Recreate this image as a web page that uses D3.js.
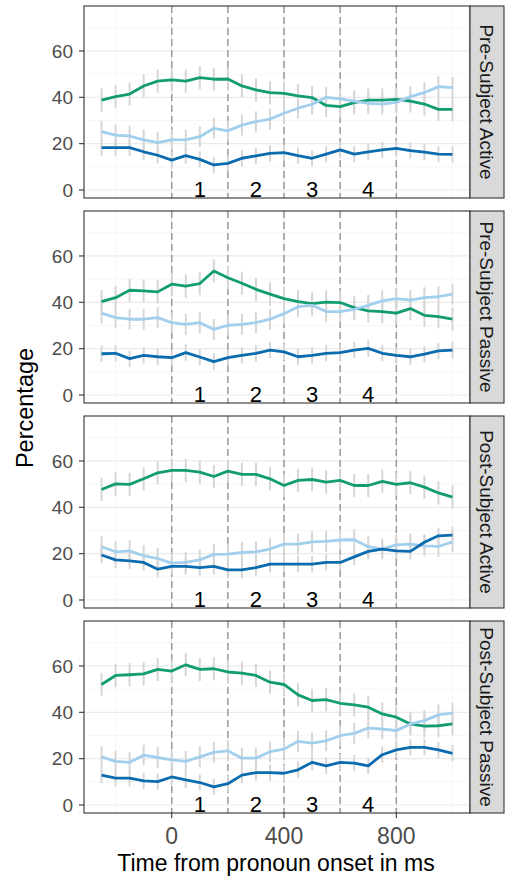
<!DOCTYPE html>
<html lang="en">
<head>
  <meta charset="UTF-8"/>
  <title>Fixation percentages by condition</title>
  <script src="https://d3js.org/d3.v7.min.js"></script>
<style>
body {
  margin: 0;
  background: #fff;
  font-family: "Liberation Sans", Arial, sans-serif;
}
svg {
  display: block;
}
.grid-major {
  stroke: #EBEBEB;
  stroke-width: 1.2;
}
.grid-minor {
  stroke: #F2F2F2;
  stroke-width: 0.7;
}
.window {
  stroke: #9A9A9A;
  stroke-width: 1.5;
  stroke-dasharray: 7 4;
}
.errbar {
  stroke: #D6D6D6;
  stroke-width: 2;
}
.series {
  fill: none;
  stroke-width: 2.8;
  stroke-linejoin: round;
}
.tick-label {
  fill: #4D4D4D;
}
</style>
</head>
<body>
<svg id="chart" width="505" height="882"></svg>
<script>
// time points, ms from pronoun onset (every 50 ms)
const times = [-250, -200, -150, -100, -50, 0, 50, 100, 150, 200, 250, 300, 350,
  400, 450, 500, 550, 600, 650, 700, 750, 800, 850, 900, 950, 1000];

const panels = ['Pre-Subject Active', 'Pre-Subject Passive', 'Post-Subject Active', 'Post-Subject Passive'];
const seriesNames = ['green', 'light', 'dark'];
const seriesColors = ['#129C73', '#A3CFEE', '#0A6BAE'];

// green series, one array per panel
const greenPreAct = [38.8, 40.3, 41.4, 44.9, 47.0, 47.5, 47.0, 48.5, 47.8, 47.9, 44.9, 43.2, 42.0,
  41.7, 40.6, 39.9, 36.5, 36.0, 37.7, 38.8, 38.8, 39.1, 38.4, 37.1, 34.8, 34.8];
const greenPrePas = [40.3, 42.0, 45.2, 44.9, 44.5, 47.8, 47.0, 48.1, 53.5, 50.6, 48.2, 45.6, 43.5,
  41.6, 40.3, 39.4, 40.1, 39.9, 37.7, 36.3, 36.0, 35.3, 37.3, 34.4, 33.8, 32.7];
const greenPostAct = [47.7, 50.1, 49.9, 52.3, 54.9, 55.9, 55.9, 55.2, 53.3, 55.6, 54.2, 54.2, 52.3,
  49.4, 51.6, 52.0, 50.9, 51.6, 49.4, 49.4, 51.2, 49.9, 50.6, 48.7, 46.2, 44.4];
const greenPostPas = [52.0, 55.9, 56.2, 56.6, 58.5, 57.8, 60.5, 58.5, 58.8, 57.4, 56.9, 55.9, 53.0,
  52.0, 47.5, 45.1, 45.5, 43.9, 43.2, 42.2, 39.3, 37.9, 35.0, 34.0, 34.2, 35.0];

// light blue series
const lightPreAct = [25.2, 23.7, 23.3, 21.6, 20.4, 21.6, 21.6, 23.0, 26.6, 25.5, 28.0, 29.5, 30.6,
  33.1, 35.3, 37.0, 40.0, 39.3, 38.4, 37.4, 37.1, 37.8, 40.3, 42.0, 44.6, 44.2];
const lightPrePas = [35.3, 33.4, 32.7, 32.7, 33.4, 31.2, 30.5, 31.2, 28.3, 30.1, 30.5, 31.2, 32.7,
  35.1, 38.1, 38.7, 36.0, 36.0, 37.0, 38.7, 40.6, 41.6, 40.9, 42.0, 42.4, 43.5];
const lightPostAct = [23.0, 20.8, 21.2, 19.1, 17.9, 15.9, 16.2, 17.3, 19.7, 19.8, 20.5, 20.8, 22.0,
  24.1, 24.1, 25.1, 25.3, 25.9, 26.0, 23.0, 22.0, 23.8, 24.1, 23.4, 23.1, 25.1];
const lightPostPas = [20.8, 18.8, 18.4, 21.5, 20.5, 19.5, 18.8, 20.8, 22.7, 23.4, 20.2, 20.2, 23.0,
  24.1, 27.5, 26.7, 27.7, 29.9, 30.9, 33.2, 32.8, 32.1, 35.0, 36.4, 38.9, 39.6];

// dark blue series
const darkPreAct = [18.3, 18.3, 18.3, 16.5, 15.0, 12.9, 14.8, 13.2, 10.8, 11.5, 13.7, 14.7, 15.8,
  16.1, 14.8, 13.7, 15.5, 17.3, 15.5, 16.5, 17.3, 18.0, 17.0, 16.3, 15.5, 15.4];
const darkPrePas = [17.8, 18.0, 15.7, 17.1, 16.5, 16.1, 18.3, 16.4, 14.4, 16.1, 17.1, 18.0, 19.4,
  18.6, 16.5, 17.1, 18.0, 18.3, 19.4, 20.1, 18.0, 17.1, 16.5, 17.6, 19.0, 19.4];
const darkPostAct = [19.4, 17.3, 16.9, 16.2, 13.3, 14.5, 14.5, 14.0, 14.5, 13.0, 13.0, 14.0, 15.5,
  15.5, 15.5, 15.5, 16.2, 16.2, 18.6, 21.0, 22.0, 21.2, 21.0, 24.9, 27.7, 28.0];
const darkPostPas = [12.9, 11.6, 11.6, 10.4, 10.1, 12.1, 10.8, 9.7, 7.8, 9.2, 12.9, 14.0, 14.0,
  13.7, 15.2, 18.4, 16.9, 18.4, 18.1, 16.9, 21.7, 23.8, 24.9, 24.9, 23.8, 22.3];

// error bar half widths (green, light, dark) per panel
const errPreAct = [5, 4.5, 3.5];
const errPrePas = [5, 4.5, 3.5];
const errPostAct = [5, 4.5, 3.5];
const errPostPas = [5, 4.5, 3.5];

// analysis windows
const windowLines = [0, 200, 400, 600, 800];
const windowLabels = ['1', '2', '3', '4'];
const windowMids = [100, 300, 500, 700];

const yMajor = [0, 20, 40, 60];
const yMinor = [10, 30, 50, 70];
const xMajor = [0, 400, 800];
const xMinor = [-200, 200, 600, 1000];

const panelData = [
  [greenPreAct, lightPreAct, darkPreAct, errPreAct],
  [greenPrePas, lightPrePas, darkPrePas, errPrePas],
  [greenPostAct, lightPostAct, darkPostAct, errPostAct],
  [greenPostPas, lightPostPas, darkPostPas, errPostPas]
];

const svg = d3.select('#chart');

const left = 84;
const right = 470;
const stripW = 34;
const panelH = 192;
const panelTop0 = 6;
const panelStep = 205;

const xScale = d3.scaleLinear()
  .domain([-312.5, 1062.5])
  .range([left, right]);

panels.forEach((name, p) => {
  const top = panelTop0 + p * panelStep;
  const yScale = d3.scaleLinear()
    .domain([-3.45, 79.4])
    .range([top + panelH, top]);

  const g = svg.append('g');

  // grid
  g.selectAll('.ymin').data(yMinor).enter().append('line')
    .attr('class', 'grid-minor')
    .attr('x1', left).attr('x2', right)
    .attr('y1', d => yScale(d)).attr('y2', d => yScale(d));
  g.selectAll('.xmin').data(xMinor).enter().append('line')
    .attr('class', 'grid-minor')
    .attr('x1', d => xScale(d)).attr('x2', d => xScale(d))
    .attr('y1', top).attr('y2', top + panelH);
  g.selectAll('.ymaj').data(yMajor).enter().append('line')
    .attr('class', 'grid-major')
    .attr('x1', left).attr('x2', right)
    .attr('y1', d => yScale(d)).attr('y2', d => yScale(d));
  g.selectAll('.xmaj').data(xMajor).enter().append('line')
    .attr('class', 'grid-major')
    .attr('x1', d => xScale(d)).attr('x2', d => xScale(d))
    .attr('y1', top).attr('y2', top + panelH);

  // dashed window boundaries
  g.selectAll('.win').data(windowLines).enter().append('line')
    .attr('class', 'window')
    .attr('x1', d => xScale(d)).attr('x2', d => xScale(d))
    .attr('y1', top).attr('y2', top + panelH);

  const [green, light, dark, err] = panelData[p];
  const seriesVals = [green, light, dark];

  // error bars first, lines over them
  seriesVals.forEach((vals, s) => {
    g.selectAll('.err' + s).data(vals).enter().append('line')
      .attr('class', 'errbar')
      .attr('x1', (d, i) => xScale(times[i]))
      .attr('x2', (d, i) => xScale(times[i]))
      .attr('y1', d => yScale(d - err[s]))
      .attr('y2', d => yScale(d + err[s]));
  });

  const line = d3.line()
    .x((d, i) => xScale(times[i]))
    .y(d => yScale(d));

  seriesVals.forEach((vals, s) => {
    g.append('path')
      .datum(vals)
      .attr('class', 'series ' + seriesNames[s])
      .attr('stroke', seriesColors[s])
      .attr('d', line);
  });

  // window numbers
  g.selectAll('.wlab').data(windowLabels).enter().append('text')
    .attr('x', (d, i) => xScale(windowMids[i]))
    .attr('y', yScale(0))
    .attr('dy', '0.3em')
    .attr('text-anchor', 'middle')
    .style('font-size', '22px')
    .style('fill', '#000')
    .text(d => d);

  // panel border
  g.append('rect')
    .attr('x', left).attr('y', top)
    .attr('width', right - left).attr('height', panelH)
    .attr('fill', 'none')
    .attr('stroke', '#333')
    .attr('stroke-width', 1.1);

  // y axis ticks
  g.selectAll('.ytick').data(yMajor).enter().append('line')
    .attr('x1', left - 5).attr('x2', left)
    .attr('y1', d => yScale(d)).attr('y2', d => yScale(d))
    .attr('stroke', '#333').attr('stroke-width', 1.1);
  g.selectAll('.ylab').data(yMajor).enter().append('text')
    .attr('class', 'tick-label')
    .attr('x', left - 11)
    .attr('y', d => yScale(d))
    .attr('dy', '0.36em')
    .attr('text-anchor', 'end')
    .style('font-size', '19px')
    .text(d => d);

  // strip on the right
  g.append('rect')
    .attr('x', right).attr('y', top)
    .attr('width', stripW).attr('height', panelH)
    .attr('fill', '#D9D9D9')
    .attr('stroke', '#333')
    .attr('stroke-width', 1.1);
  g.append('text')
    .attr('transform', `translate(${right + stripW / 2}, ${top + panelH / 2}) rotate(90)`)
    .attr('text-anchor', 'middle')
    .attr('dy', '0.36em')
    .style('font-size', '19px')
    .style('fill', '#1A1A1A')
    .text(name);

  // x axis only on the bottom panel
  if (p === panels.length - 1) {
    const base = top + panelH;
    g.selectAll('.xtick').data(xMajor).enter().append('line')
      .attr('x1', d => xScale(d)).attr('x2', d => xScale(d))
      .attr('y1', base).attr('y2', base + 5)
      .attr('stroke', '#333').attr('stroke-width', 1.1);
    g.selectAll('.xlab').data(xMajor).enter().append('text')
      .attr('class', 'tick-label')
      .attr('x', d => xScale(d))
      .attr('y', 844)
      .attr('text-anchor', 'middle')
      .style('font-size', '23px')
      .text(d => d);
  }
});

// axis titles
svg.append('text')
  .attr('x', 276)
  .attr('y', 871)
  .attr('text-anchor', 'middle')
  .style('font-size', '23px')
  .text('Time from pronoun onset in ms');

svg.append('text')
  .attr('transform', 'translate(33, 408) rotate(-90)')
  .attr('text-anchor', 'middle')
  .style('font-size', '23.5px')
  .text('Percentage');
</script>
</body>
</html>
